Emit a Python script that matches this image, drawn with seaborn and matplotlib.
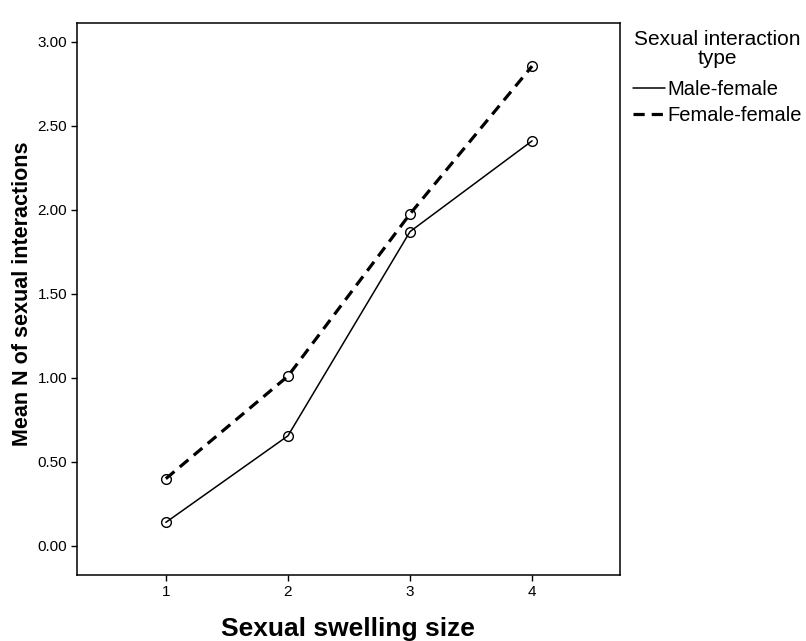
import matplotlib
matplotlib.use("Agg")
import matplotlib.pyplot as plt
import seaborn as sns
import pandas as pd
from matplotlib.ticker import FormatStrFormatter
from matplotlib.lines import Line2D

swelling_size = [1, 2, 3, 4]
male_female = [0.14, 0.655, 1.87, 2.41]
female_female = [0.40, 1.01, 1.975, 2.855]
series_names = ["Male-female", "Female-female"]
y_ticks = [0.0, 0.5, 1.0, 1.5, 2.0, 2.5, 3.0]

sns.set_theme(style="white")
plt.rcParams["font.family"] = ["Liberation Sans", "DejaVu Sans"]
plt.rcParams["text.color"] = "black"
plt.rcParams["axes.labelcolor"] = "black"

df = pd.DataFrame({
    "size": swelling_size * 2,
    "mean": male_female + female_female,
    "type": [series_names[0]] * 4 + [series_names[1]] * 4,
})

fig = plt.figure(figsize=(8.06, 6.41), dpi=100)
ax = fig.add_axes([0.0952, 0.103, 0.674, 0.861])

styles = {
    "Male-female": dict(linewidth=1.1, linestyle="-"),
    "Female-female": dict(linewidth=2.3, linestyle=(0, (3.5, 2.2))),
}
for name in series_names:
    sub = df[df["type"] == name]
    sns.lineplot(data=sub, x="size", y="mean", ax=ax, color="black",
                 marker="o", markersize=7, markerfacecolor="none",
                 markeredgecolor="black", markeredgewidth=1.0,
                 legend=False, **styles[name])

ax.set_xlim(0.27, 4.72)
ax.set_ylim(-0.173, 3.111)
ax.set_xticks(swelling_size)
ax.set_yticks(y_ticks)
ax.yaxis.set_major_formatter(FormatStrFormatter("%.2f"))
ax.tick_params(axis="both", which="both", direction="out", length=4, width=1,
               color="black", labelsize=11, labelcolor="black",
               bottom=True, left=True, top=False, right=False, pad=3)
for sp in ax.spines.values():
    sp.set_color("black")
    sp.set_linewidth(1.1)
    sp.set_visible(True)

ax.set_xlabel("Sexual swelling size", fontsize=19, fontweight="bold",
              labelpad=13, color="black")
ax.set_ylabel("Mean N of sexual interactions", fontsize=15.5, fontweight="bold",
              labelpad=3.5, color="black")
ax.yaxis.label.set_y(0.509)

fig.text(717 / 806, 1 - 49 / 641, "Sexual interaction\ntype", ha="center",
         va="center", fontsize=15, linespacing=0.95, color="black")

handles = [Line2D([], [], color="black", **styles[n]) for n in series_names]
leg = fig.legend(handles, series_names,
                 loc="upper left", bbox_to_anchor=(633 / 806, 1 - 80 / 641),
                 frameon=False, fontsize=14.5,
                 handlelength=1.6, handletextpad=0.1, labelspacing=0.35,
                 borderaxespad=0, borderpad=0)
for t in leg.get_texts():
    t.set_color("black")

fig.savefig("out.png", dpi=100, facecolor="white")
